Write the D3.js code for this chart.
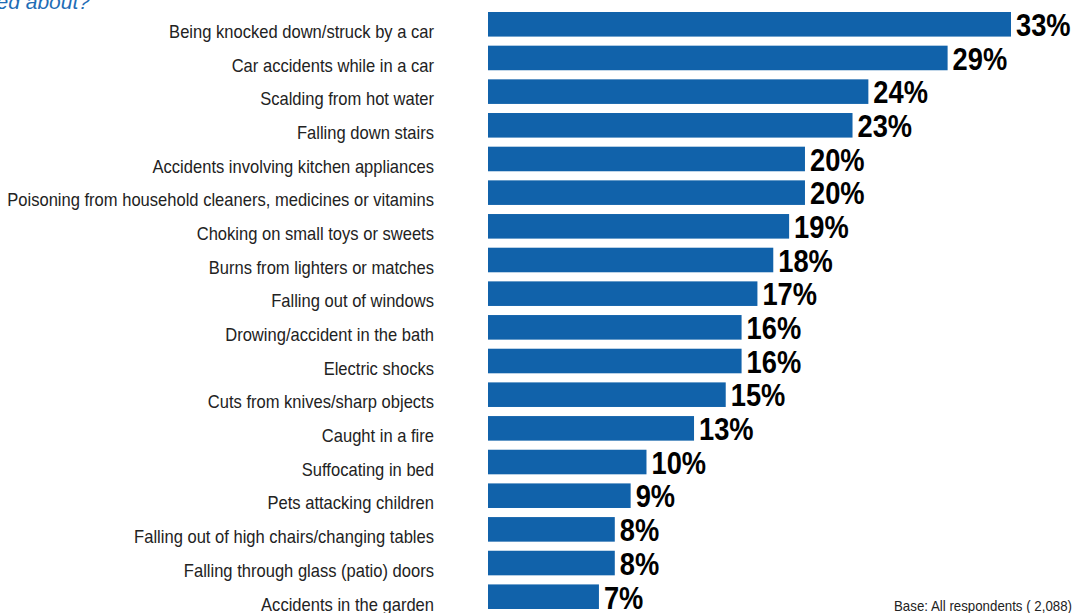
<!DOCTYPE html>
<html>
<head>
<meta charset="utf-8">
<script src="https://cdn.jsdelivr.net/npm/d3@7/dist/d3.min.js"></script>
<style>
  html, body { margin: 0; padding: 0; background: #fff; overflow: hidden; }
  svg { display: block; }
  text { font-family: "Liberation Sans", Arial, sans-serif; }
</style>
</head>
<body>
<svg id="chart"></svg>
<script>
// accident worries, % of respondents
const categories = [
  "Being knocked down/struck by a car",
  "Car accidents while in a car",
  "Scalding from hot water",
  "Falling down stairs",
  "Accidents involving kitchen appliances",
  "Poisoning from household cleaners, medicines or vitamins",
  "Choking on small toys or sweets",
  "Burns from lighters or matches",
  "Falling out of windows",
  "Drowing/accident in the bath",
  "Electric shocks",
  "Cuts from knives/sharp objects",
  "Caught in a fire",
  "Suffocating in bed",
  "Pets attacking children",
  "Falling out of high chairs/changing tables",
  "Falling through glass (patio) doors",
  "Accidents in the garden"
];
const values = [33, 29, 24, 23, 20, 20, 19, 18, 17, 16, 16, 15, 13, 10, 9, 8, 8, 7];
const titleTail = "ed about?";
const baseNote = "Base: All respondents ( 2,088)";

const width = 1081, height = 613;
const data = categories.map((c, i) => ({ cat: c, value: values[i] }));

const svg = d3.select("#chart")
  .attr("width", width)
  .attr("height", height);

const x = d3.scaleLinear()
  .domain([0, 33])
  .range([488, 1011]);

const y = d3.scaleBand()
  .domain(categories)
  .range([12, 609])
  .paddingInner(0.27)
  .paddingOuter(0);

// fake a condensed face by squeezing the text horizontally
const squeeze = (sel, sx) => sel.attr("transform", function () {
  const tx = +this.getAttribute("data-x"), ty = +this.getAttribute("data-y");
  return `translate(${tx},${ty}) scale(${sx},1)`;
});

// cut-off question at the top
svg.append("text")
  .attr("x", 90)
  .attr("y", 9)
  .attr("text-anchor", "end")
  .attr("font-style", "italic")
  .attr("font-size", 21)
  .attr("fill", "#1f6db6")
  .text(titleTail);

// bars
svg.selectAll("rect.bar")
  .data(data)
  .enter()
  .append("rect")
  .attr("class", "bar")
  .attr("x", x(0))
  .attr("y", d => y(d.cat))
  .attr("width", d => x(d.value) - x(0))
  .attr("height", y.bandwidth())
  .attr("fill", "#1162aa");

// category labels
svg.selectAll("text.cat")
  .data(data)
  .enter()
  .append("text")
  .attr("class", "cat")
  .attr("data-x", 434)
  .attr("data-y", d => y(d.cat) + y.bandwidth() + 1.5)
  .attr("text-anchor", "end")
  .attr("font-size", 18)
  .attr("fill", "#222")
  .text(d => d.cat)
  .call(squeeze, 0.92);

// value labels
svg.selectAll("text.val")
  .data(data)
  .enter()
  .append("text")
  .attr("class", "val")
  .attr("data-x", d => x(d.value) + 5)
  .attr("data-y", d => y(d.cat) + y.bandwidth() - 0.5)
  .attr("font-size", 31)
  .attr("font-weight", "bold")
  .attr("fill", "#000")
  .text(d => d.value + "%")
  .call(squeeze, 0.88);

svg.append("text")
  .attr("data-x", 1072)
  .attr("data-y", 611)
  .attr("text-anchor", "end")
  .attr("font-size", 14)
  .attr("fill", "#222")
  .text(baseNote)
  .call(squeeze, 0.95);
</script>
</body>
</html>
